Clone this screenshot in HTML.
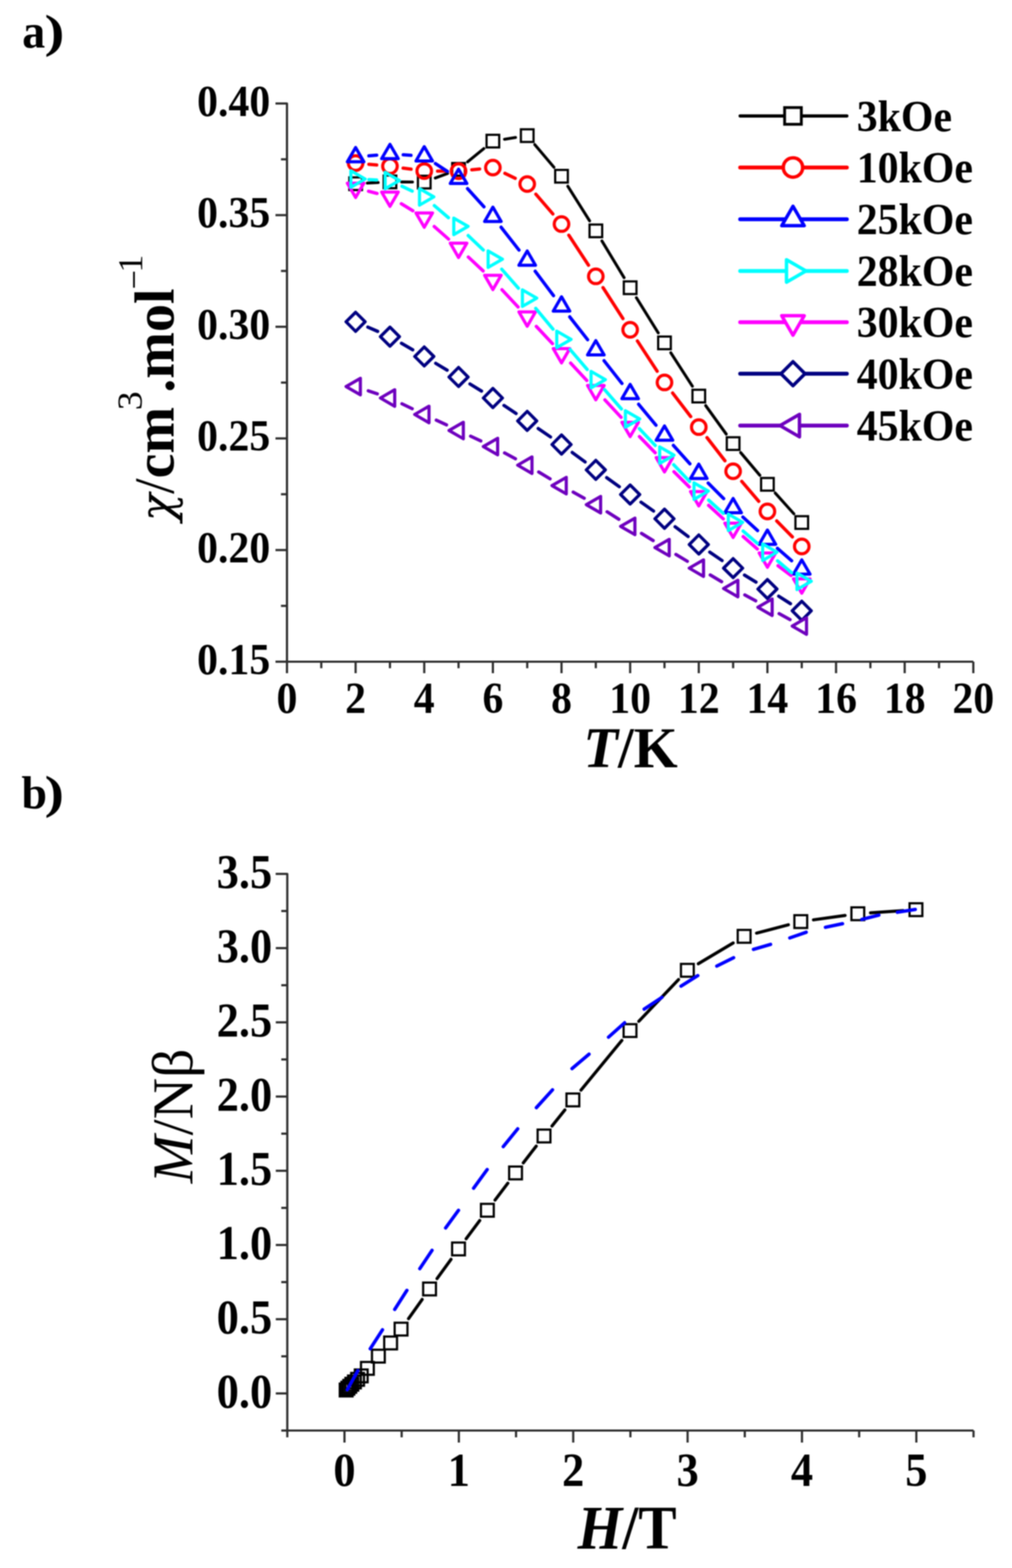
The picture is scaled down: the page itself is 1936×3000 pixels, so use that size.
<!DOCTYPE html>
<html><head><meta charset="utf-8"><title>Figure</title>
<style>
html,body{margin:0;padding:0;background:#fff}
svg{display:block;filter:blur(1.2px)}

text{font-family:"Liberation Serif","Times New Roman",serif;fill:#000}
.ta{font-size:80px;font-weight:bold}
.tb{font-size:85px;font-weight:bold}
.lg{font-size:80px;font-weight:bold}
.pl{font-size:88px;font-weight:bold}
.pr{font-weight:normal}
.at{font-size:110px;font-weight:bold}
.ya{font-size:107px;font-weight:bold}
.sup{font-size:68px;font-weight:normal}
.chi{font-family:"DejaVu Serif",serif;font-style:italic;font-size:88px}
.yb{font-size:110px;font-weight:normal}

</style></head><body>
<svg width="1936" height="3000" viewBox="0 0 1936 3000">
<rect width="1936" height="3000" fill="#fff"/>
<path d="M527.0,198.0 H549.0 V1266.0 H1862.0" fill="none" stroke="#2e2e2e" stroke-width="4.2" stroke-linejoin="round"/>
<line x1="527.0" y1="1266.0" x2="549.0" y2="1266.0" stroke="#2e2e2e" stroke-width="4.2" stroke-linecap="butt"/>
<line x1="537.5" y1="1159.2" x2="549.0" y2="1159.2" stroke="#2e2e2e" stroke-width="4.2" stroke-linecap="butt"/>
<line x1="527.0" y1="1052.4" x2="549.0" y2="1052.4" stroke="#2e2e2e" stroke-width="4.2" stroke-linecap="butt"/>
<line x1="537.5" y1="945.6" x2="549.0" y2="945.6" stroke="#2e2e2e" stroke-width="4.2" stroke-linecap="butt"/>
<line x1="527.0" y1="838.8" x2="549.0" y2="838.8" stroke="#2e2e2e" stroke-width="4.2" stroke-linecap="butt"/>
<line x1="537.5" y1="732.0" x2="549.0" y2="732.0" stroke="#2e2e2e" stroke-width="4.2" stroke-linecap="butt"/>
<line x1="527.0" y1="625.2" x2="549.0" y2="625.2" stroke="#2e2e2e" stroke-width="4.2" stroke-linecap="butt"/>
<line x1="537.5" y1="518.4" x2="549.0" y2="518.4" stroke="#2e2e2e" stroke-width="4.2" stroke-linecap="butt"/>
<line x1="527.0" y1="411.6" x2="549.0" y2="411.6" stroke="#2e2e2e" stroke-width="4.2" stroke-linecap="butt"/>
<line x1="537.5" y1="304.8" x2="549.0" y2="304.8" stroke="#2e2e2e" stroke-width="4.2" stroke-linecap="butt"/>
<line x1="527.0" y1="198.0" x2="549.0" y2="198.0" stroke="#2e2e2e" stroke-width="4.2" stroke-linecap="butt"/>
<line x1="549.0" y1="1266.0" x2="549.0" y2="1288.0" stroke="#2e2e2e" stroke-width="4.2" stroke-linecap="butt"/>
<line x1="614.6" y1="1266.0" x2="614.6" y2="1278.5" stroke="#2e2e2e" stroke-width="4.2" stroke-linecap="butt"/>
<line x1="680.3" y1="1266.0" x2="680.3" y2="1288.0" stroke="#2e2e2e" stroke-width="4.2" stroke-linecap="butt"/>
<line x1="746.0" y1="1266.0" x2="746.0" y2="1278.5" stroke="#2e2e2e" stroke-width="4.2" stroke-linecap="butt"/>
<line x1="811.6" y1="1266.0" x2="811.6" y2="1288.0" stroke="#2e2e2e" stroke-width="4.2" stroke-linecap="butt"/>
<line x1="877.2" y1="1266.0" x2="877.2" y2="1278.5" stroke="#2e2e2e" stroke-width="4.2" stroke-linecap="butt"/>
<line x1="942.9" y1="1266.0" x2="942.9" y2="1288.0" stroke="#2e2e2e" stroke-width="4.2" stroke-linecap="butt"/>
<line x1="1008.6" y1="1266.0" x2="1008.6" y2="1278.5" stroke="#2e2e2e" stroke-width="4.2" stroke-linecap="butt"/>
<line x1="1074.2" y1="1266.0" x2="1074.2" y2="1288.0" stroke="#2e2e2e" stroke-width="4.2" stroke-linecap="butt"/>
<line x1="1139.8" y1="1266.0" x2="1139.8" y2="1278.5" stroke="#2e2e2e" stroke-width="4.2" stroke-linecap="butt"/>
<line x1="1205.5" y1="1266.0" x2="1205.5" y2="1288.0" stroke="#2e2e2e" stroke-width="4.2" stroke-linecap="butt"/>
<line x1="1271.2" y1="1266.0" x2="1271.2" y2="1278.5" stroke="#2e2e2e" stroke-width="4.2" stroke-linecap="butt"/>
<line x1="1336.8" y1="1266.0" x2="1336.8" y2="1288.0" stroke="#2e2e2e" stroke-width="4.2" stroke-linecap="butt"/>
<line x1="1402.5" y1="1266.0" x2="1402.5" y2="1278.5" stroke="#2e2e2e" stroke-width="4.2" stroke-linecap="butt"/>
<line x1="1468.1" y1="1266.0" x2="1468.1" y2="1288.0" stroke="#2e2e2e" stroke-width="4.2" stroke-linecap="butt"/>
<line x1="1533.8" y1="1266.0" x2="1533.8" y2="1278.5" stroke="#2e2e2e" stroke-width="4.2" stroke-linecap="butt"/>
<line x1="1599.4" y1="1266.0" x2="1599.4" y2="1288.0" stroke="#2e2e2e" stroke-width="4.2" stroke-linecap="butt"/>
<line x1="1665.1" y1="1266.0" x2="1665.1" y2="1278.5" stroke="#2e2e2e" stroke-width="4.2" stroke-linecap="butt"/>
<line x1="1730.7" y1="1266.0" x2="1730.7" y2="1288.0" stroke="#2e2e2e" stroke-width="4.2" stroke-linecap="butt"/>
<line x1="1796.4" y1="1266.0" x2="1796.4" y2="1278.5" stroke="#2e2e2e" stroke-width="4.2" stroke-linecap="butt"/>
<line x1="1862.0" y1="1266.0" x2="1862.0" y2="1288.0" stroke="#2e2e2e" stroke-width="4.2" stroke-linecap="butt"/>
<path d="M527.6,1672.0 H549.6 V2737.0 H1862.4" fill="none" stroke="#2e2e2e" stroke-width="4.2" stroke-linejoin="round"/>
<line x1="538.1" y1="2737.0" x2="549.6" y2="2737.0" stroke="#2e2e2e" stroke-width="4.2" stroke-linecap="butt"/>
<line x1="527.6" y1="2666.0" x2="549.6" y2="2666.0" stroke="#2e2e2e" stroke-width="4.2" stroke-linecap="butt"/>
<line x1="538.1" y1="2595.0" x2="549.6" y2="2595.0" stroke="#2e2e2e" stroke-width="4.2" stroke-linecap="butt"/>
<line x1="527.6" y1="2524.0" x2="549.6" y2="2524.0" stroke="#2e2e2e" stroke-width="4.2" stroke-linecap="butt"/>
<line x1="538.1" y1="2453.0" x2="549.6" y2="2453.0" stroke="#2e2e2e" stroke-width="4.2" stroke-linecap="butt"/>
<line x1="527.6" y1="2382.0" x2="549.6" y2="2382.0" stroke="#2e2e2e" stroke-width="4.2" stroke-linecap="butt"/>
<line x1="538.1" y1="2311.0" x2="549.6" y2="2311.0" stroke="#2e2e2e" stroke-width="4.2" stroke-linecap="butt"/>
<line x1="527.6" y1="2240.0" x2="549.6" y2="2240.0" stroke="#2e2e2e" stroke-width="4.2" stroke-linecap="butt"/>
<line x1="538.1" y1="2169.0" x2="549.6" y2="2169.0" stroke="#2e2e2e" stroke-width="4.2" stroke-linecap="butt"/>
<line x1="527.6" y1="2098.0" x2="549.6" y2="2098.0" stroke="#2e2e2e" stroke-width="4.2" stroke-linecap="butt"/>
<line x1="538.1" y1="2027.0" x2="549.6" y2="2027.0" stroke="#2e2e2e" stroke-width="4.2" stroke-linecap="butt"/>
<line x1="527.6" y1="1956.0" x2="549.6" y2="1956.0" stroke="#2e2e2e" stroke-width="4.2" stroke-linecap="butt"/>
<line x1="538.1" y1="1885.0" x2="549.6" y2="1885.0" stroke="#2e2e2e" stroke-width="4.2" stroke-linecap="butt"/>
<line x1="527.6" y1="1814.0" x2="549.6" y2="1814.0" stroke="#2e2e2e" stroke-width="4.2" stroke-linecap="butt"/>
<line x1="538.1" y1="1743.0" x2="549.6" y2="1743.0" stroke="#2e2e2e" stroke-width="4.2" stroke-linecap="butt"/>
<line x1="527.6" y1="1672.0" x2="549.6" y2="1672.0" stroke="#2e2e2e" stroke-width="4.2" stroke-linecap="butt"/>
<line x1="549.6" y1="2737.0" x2="549.6" y2="2750.0" stroke="#2e2e2e" stroke-width="4.2" stroke-linecap="butt"/>
<line x1="659.0" y1="2737.0" x2="659.0" y2="2760.0" stroke="#2e2e2e" stroke-width="4.2" stroke-linecap="butt"/>
<line x1="768.4" y1="2737.0" x2="768.4" y2="2750.0" stroke="#2e2e2e" stroke-width="4.2" stroke-linecap="butt"/>
<line x1="877.8" y1="2737.0" x2="877.8" y2="2760.0" stroke="#2e2e2e" stroke-width="4.2" stroke-linecap="butt"/>
<line x1="987.2" y1="2737.0" x2="987.2" y2="2750.0" stroke="#2e2e2e" stroke-width="4.2" stroke-linecap="butt"/>
<line x1="1096.6" y1="2737.0" x2="1096.6" y2="2760.0" stroke="#2e2e2e" stroke-width="4.2" stroke-linecap="butt"/>
<line x1="1206.0" y1="2737.0" x2="1206.0" y2="2750.0" stroke="#2e2e2e" stroke-width="4.2" stroke-linecap="butt"/>
<line x1="1315.4" y1="2737.0" x2="1315.4" y2="2760.0" stroke="#2e2e2e" stroke-width="4.2" stroke-linecap="butt"/>
<line x1="1424.8" y1="2737.0" x2="1424.8" y2="2750.0" stroke="#2e2e2e" stroke-width="4.2" stroke-linecap="butt"/>
<line x1="1534.2" y1="2737.0" x2="1534.2" y2="2760.0" stroke="#2e2e2e" stroke-width="4.2" stroke-linecap="butt"/>
<line x1="1643.6" y1="2737.0" x2="1643.6" y2="2750.0" stroke="#2e2e2e" stroke-width="4.2" stroke-linecap="butt"/>
<line x1="1753.0" y1="2737.0" x2="1753.0" y2="2760.0" stroke="#2e2e2e" stroke-width="4.2" stroke-linecap="butt"/>
<line x1="1862.4" y1="2737.0" x2="1862.4" y2="2750.0" stroke="#2e2e2e" stroke-width="4.2" stroke-linecap="butt"/>
<path d="M702.8,350.3L723.5,349.2M768.4,348.1L789.1,348.3M832.7,340.6L856.2,331.8M894.6,309.7L925.5,284.3M965.1,266.4L986.3,263.1M1023.1,276.7L1059.7,320.0M1086.2,356.3L1127.9,422.6M1151.5,461.0L1193.9,531.2M1217.4,569.6L1259.3,636.9M1283.3,674.9L1324.6,738.9M1350.0,776.0L1389.3,830.5M1416.9,865.9L1453.6,909.4M1483.1,943.3L1518.7,983.0" fill="none" stroke="#000000" stroke-width="5.6" stroke-linecap="round"/>
<rect x="668.2" y="339.4" width="24.2" height="24.2" fill="none" stroke="#000000" stroke-width="4.2"/>
<rect x="733.9" y="335.9" width="24.2" height="24.2" fill="none" stroke="#000000" stroke-width="4.2"/>
<rect x="799.5" y="336.3" width="24.2" height="24.2" fill="none" stroke="#000000" stroke-width="4.2"/>
<rect x="865.1" y="311.9" width="24.2" height="24.2" fill="none" stroke="#000000" stroke-width="4.2"/>
<rect x="930.8" y="257.9" width="24.2" height="24.2" fill="none" stroke="#000000" stroke-width="4.2"/>
<rect x="996.5" y="247.4" width="24.2" height="24.2" fill="none" stroke="#000000" stroke-width="4.2"/>
<rect x="1062.1" y="325.1" width="24.2" height="24.2" fill="none" stroke="#000000" stroke-width="4.2"/>
<rect x="1127.8" y="429.6" width="24.2" height="24.2" fill="none" stroke="#000000" stroke-width="4.2"/>
<rect x="1193.4" y="538.4" width="24.2" height="24.2" fill="none" stroke="#000000" stroke-width="4.2"/>
<rect x="1259.1" y="643.9" width="24.2" height="24.2" fill="none" stroke="#000000" stroke-width="4.2"/>
<rect x="1324.7" y="745.7" width="24.2" height="24.2" fill="none" stroke="#000000" stroke-width="4.2"/>
<rect x="1390.4" y="836.6" width="24.2" height="24.2" fill="none" stroke="#000000" stroke-width="4.2"/>
<rect x="1456.0" y="914.5" width="24.2" height="24.2" fill="none" stroke="#000000" stroke-width="4.2"/>
<rect x="1521.7" y="987.6" width="24.2" height="24.2" fill="none" stroke="#000000" stroke-width="4.2"/>
<path d="M705.7,314.3L720.6,315.7M771.2,321.6L786.4,323.7M837.1,327.4L851.8,327.4M902.6,324.8L917.5,323.3M965.9,331.6L985.6,341.1M1025.1,371.5L1057.6,409.3M1088.2,450.0L1125.9,507.4M1153.6,550.2L1191.7,609.5M1219.4,652.4L1257.2,710.3M1286.7,751.9L1321.3,797.0M1352.5,837.3L1386.8,881.5M1419.0,921.0L1451.5,959.1M1485.9,996.7L1515.9,1027.3" fill="none" stroke="#ff0000" stroke-width="6.3" stroke-linecap="round"/>
<circle cx="680.3" cy="312.0" r="13.9" fill="none" stroke="#ff0000" stroke-width="6.0"/>
<circle cx="746.0" cy="318.0" r="13.9" fill="none" stroke="#ff0000" stroke-width="6.0"/>
<circle cx="811.6" cy="327.3" r="13.9" fill="none" stroke="#ff0000" stroke-width="6.0"/>
<circle cx="877.2" cy="327.5" r="13.9" fill="none" stroke="#ff0000" stroke-width="6.0"/>
<circle cx="942.9" cy="320.6" r="13.9" fill="none" stroke="#ff0000" stroke-width="6.0"/>
<circle cx="1008.6" cy="352.1" r="13.9" fill="none" stroke="#ff0000" stroke-width="6.0"/>
<circle cx="1074.2" cy="428.7" r="13.9" fill="none" stroke="#ff0000" stroke-width="6.0"/>
<circle cx="1139.8" cy="528.7" r="13.9" fill="none" stroke="#ff0000" stroke-width="6.0"/>
<circle cx="1205.5" cy="631.0" r="13.9" fill="none" stroke="#ff0000" stroke-width="6.0"/>
<circle cx="1271.2" cy="731.7" r="13.9" fill="none" stroke="#ff0000" stroke-width="6.0"/>
<circle cx="1336.8" cy="817.2" r="13.9" fill="none" stroke="#ff0000" stroke-width="6.0"/>
<circle cx="1402.5" cy="901.6" r="13.9" fill="none" stroke="#ff0000" stroke-width="6.0"/>
<circle cx="1468.1" cy="978.5" r="13.9" fill="none" stroke="#ff0000" stroke-width="6.0"/>
<circle cx="1533.8" cy="1045.5" r="13.9" fill="none" stroke="#ff0000" stroke-width="6.0"/>
<path d="M705.7,298.2L720.6,296.8M771.4,296.2L786.2,297.2M832.9,312.9L855.9,328.0M894.4,360.9L925.8,395.7M958.6,434.7L992.8,478.4M1023.8,518.9L1058.9,565.7M1089.9,606.2L1124.1,649.9M1155.6,690.1L1189.8,733.6M1221.7,773.4L1254.9,813.5M1288.2,852.2L1319.8,887.3M1354.8,924.3L1384.4,954.0M1421.2,989.3L1449.3,1015.1M1487.3,1049.1L1514.5,1072.8" fill="none" stroke="#0000ff" stroke-width="6.3" stroke-linecap="round"/>
<polygon points="680.3,282.2 696.1,309.6 664.5,309.6" fill="none" stroke="#0000ff" stroke-width="6.0" stroke-linejoin="round"/>
<polygon points="746.0,276.2 761.8,303.6 730.1,303.6" fill="none" stroke="#0000ff" stroke-width="6.0" stroke-linejoin="round"/>
<polygon points="811.6,280.6 827.4,308.0 795.8,308.0" fill="none" stroke="#0000ff" stroke-width="6.0" stroke-linejoin="round"/>
<polygon points="877.2,323.7 893.1,351.1 861.4,351.1" fill="none" stroke="#0000ff" stroke-width="6.0" stroke-linejoin="round"/>
<polygon points="942.9,396.3 958.7,423.7 927.1,423.7" fill="none" stroke="#0000ff" stroke-width="6.0" stroke-linejoin="round"/>
<polygon points="1008.6,480.2 1024.4,507.6 992.7,507.6" fill="none" stroke="#0000ff" stroke-width="6.0" stroke-linejoin="round"/>
<polygon points="1074.2,567.8 1090.0,595.2 1058.4,595.2" fill="none" stroke="#0000ff" stroke-width="6.0" stroke-linejoin="round"/>
<polygon points="1139.8,651.7 1155.7,679.1 1124.0,679.1" fill="none" stroke="#0000ff" stroke-width="6.0" stroke-linejoin="round"/>
<polygon points="1205.5,735.4 1221.3,762.8 1189.7,762.8" fill="none" stroke="#0000ff" stroke-width="6.0" stroke-linejoin="round"/>
<polygon points="1271.2,814.9 1287.0,842.3 1255.3,842.3" fill="none" stroke="#0000ff" stroke-width="6.0" stroke-linejoin="round"/>
<polygon points="1336.8,888.0 1352.6,915.4 1321.0,915.4" fill="none" stroke="#0000ff" stroke-width="6.0" stroke-linejoin="round"/>
<polygon points="1402.5,953.7 1418.3,981.1 1386.6,981.1" fill="none" stroke="#0000ff" stroke-width="6.0" stroke-linejoin="round"/>
<polygon points="1468.1,1014.1 1483.9,1041.5 1452.3,1041.5" fill="none" stroke="#0000ff" stroke-width="6.0" stroke-linejoin="round"/>
<polygon points="1533.8,1071.2 1549.6,1098.6 1517.9,1098.6" fill="none" stroke="#0000ff" stroke-width="6.0" stroke-linejoin="round"/>
<path d="M705.0,365.9L721.3,370.1M767.7,389.8L789.8,403.2M830.7,433.4L858.1,457.5M895.9,491.8L924.3,518.4M960.3,554.4L991.1,587.3M1026.0,624.5L1056.8,657.4M1091.6,694.7L1122.5,727.9M1157.2,765.2L1188.1,798.4M1223.3,835.3L1253.4,866.3M1289.3,902.5L1318.7,931.7M1355.6,966.9L1383.7,992.7M1421.7,1026.7L1448.8,1050.3M1488.4,1082.4L1513.4,1101.2" fill="none" stroke="#ff00ff" stroke-width="6.3" stroke-linecap="round"/>
<polygon points="680.3,377.8 696.1,350.4 664.5,350.4" fill="none" stroke="#ff00ff" stroke-width="6.0" stroke-linejoin="round"/>
<polygon points="746.0,394.8 761.8,367.4 730.1,367.4" fill="none" stroke="#ff00ff" stroke-width="6.0" stroke-linejoin="round"/>
<polygon points="811.6,434.8 827.4,407.4 795.8,407.4" fill="none" stroke="#ff00ff" stroke-width="6.0" stroke-linejoin="round"/>
<polygon points="877.2,492.7 893.1,465.3 861.4,465.3" fill="none" stroke="#ff00ff" stroke-width="6.0" stroke-linejoin="round"/>
<polygon points="942.9,554.1 958.7,526.7 927.1,526.7" fill="none" stroke="#ff00ff" stroke-width="6.0" stroke-linejoin="round"/>
<polygon points="1008.6,624.2 1024.4,596.8 992.7,596.8" fill="none" stroke="#ff00ff" stroke-width="6.0" stroke-linejoin="round"/>
<polygon points="1074.2,694.3 1090.0,666.9 1058.4,666.9" fill="none" stroke="#ff00ff" stroke-width="6.0" stroke-linejoin="round"/>
<polygon points="1139.8,764.9 1155.7,737.5 1124.0,737.5" fill="none" stroke="#ff00ff" stroke-width="6.0" stroke-linejoin="round"/>
<polygon points="1205.5,835.3 1221.3,807.9 1189.7,807.9" fill="none" stroke="#ff00ff" stroke-width="6.0" stroke-linejoin="round"/>
<polygon points="1271.2,902.9 1287.0,875.5 1255.3,875.5" fill="none" stroke="#ff00ff" stroke-width="6.0" stroke-linejoin="round"/>
<polygon points="1336.8,967.9 1352.6,940.5 1321.0,940.5" fill="none" stroke="#ff00ff" stroke-width="6.0" stroke-linejoin="round"/>
<polygon points="1402.5,1028.3 1418.3,1000.9 1386.6,1000.9" fill="none" stroke="#ff00ff" stroke-width="6.0" stroke-linejoin="round"/>
<polygon points="1468.1,1085.3 1483.9,1057.9 1452.3,1057.9" fill="none" stroke="#ff00ff" stroke-width="6.0" stroke-linejoin="round"/>
<polygon points="1533.8,1134.9 1549.6,1107.5 1517.9,1107.5" fill="none" stroke="#ff00ff" stroke-width="6.0" stroke-linejoin="round"/>
<path d="M705.8,343.6L720.5,344.3M769.0,356.4L788.6,365.7M830.9,393.3L857.9,416.5M895.7,450.7L924.5,478.3M959.8,515.0L991.7,551.3M1024.9,590.0L1057.9,629.7M1090.7,668.7L1123.3,706.9M1156.6,745.5L1188.7,782.4M1223.1,820.1L1253.6,852.3M1288.8,889.2L1319.2,921.2M1355.7,956.8L1383.6,982.1M1421.7,1016.1L1448.9,1039.7M1487.5,1073.0L1514.3,1095.7" fill="none" stroke="#00ffff" stroke-width="6.3" stroke-linecap="round"/>
<polygon points="698.6,342.5 671.2,358.3 671.2,326.7" fill="none" stroke="#00ffff" stroke-width="6.0" stroke-linejoin="round"/>
<polygon points="764.2,345.4 736.8,361.2 736.8,329.6" fill="none" stroke="#00ffff" stroke-width="6.0" stroke-linejoin="round"/>
<polygon points="829.9,376.7 802.5,392.5 802.5,360.9" fill="none" stroke="#00ffff" stroke-width="6.0" stroke-linejoin="round"/>
<polygon points="895.5,433.1 868.1,448.9 868.1,417.3" fill="none" stroke="#00ffff" stroke-width="6.0" stroke-linejoin="round"/>
<polygon points="961.2,495.9 933.8,511.7 933.8,480.1" fill="none" stroke="#00ffff" stroke-width="6.0" stroke-linejoin="round"/>
<polygon points="1026.8,570.4 999.4,586.2 999.4,554.6" fill="none" stroke="#00ffff" stroke-width="6.0" stroke-linejoin="round"/>
<polygon points="1092.5,649.3 1065.1,665.1 1065.1,633.5" fill="none" stroke="#00ffff" stroke-width="6.0" stroke-linejoin="round"/>
<polygon points="1158.1,726.3 1130.7,742.1 1130.7,710.5" fill="none" stroke="#00ffff" stroke-width="6.0" stroke-linejoin="round"/>
<polygon points="1223.8,801.6 1196.4,817.4 1196.4,785.8" fill="none" stroke="#00ffff" stroke-width="6.0" stroke-linejoin="round"/>
<polygon points="1289.4,870.8 1262.0,886.6 1262.0,855.0" fill="none" stroke="#00ffff" stroke-width="6.0" stroke-linejoin="round"/>
<polygon points="1355.1,939.6 1327.7,955.4 1327.7,923.8" fill="none" stroke="#00ffff" stroke-width="6.0" stroke-linejoin="round"/>
<polygon points="1420.7,999.3 1393.3,1015.1 1393.3,983.5" fill="none" stroke="#00ffff" stroke-width="6.0" stroke-linejoin="round"/>
<polygon points="1486.4,1056.5 1459.0,1072.3 1459.0,1040.7" fill="none" stroke="#00ffff" stroke-width="6.0" stroke-linejoin="round"/>
<polygon points="1552.0,1112.2 1524.6,1128.0 1524.6,1096.4" fill="none" stroke="#00ffff" stroke-width="6.0" stroke-linejoin="round"/>
<path d="M703.7,625.8L722.5,634.0M768.0,656.8L789.5,669.3M833.5,695.1L855.4,708.2M899.0,734.6L921.2,748.2M964.1,775.7L987.3,791.1M1029.6,819.8L1053.2,836.0M1094.7,865.7L1119.3,883.8M1160.6,913.9L1184.8,931.2M1226.3,960.8L1250.3,977.8M1291.5,1007.8L1316.4,1026.5M1357.8,1056.3L1381.4,1072.5M1424.2,1100.3L1446.3,1113.7M1489.6,1140.6L1512.2,1155.0" fill="none" stroke="#000080" stroke-width="6.3" stroke-linecap="round"/>
<polygon points="680.3,597.5 698.5,615.7 680.3,634.0 662.0,615.7" fill="none" stroke="#000080" stroke-width="6.0" stroke-linejoin="round"/>
<polygon points="746.0,625.9 764.2,644.1 746.0,662.4 727.7,644.1" fill="none" stroke="#000080" stroke-width="6.0" stroke-linejoin="round"/>
<polygon points="811.6,663.8 829.9,682.0 811.6,700.2 793.4,682.0" fill="none" stroke="#000080" stroke-width="6.0" stroke-linejoin="round"/>
<polygon points="877.2,703.0 895.5,721.3 877.2,739.5 859.0,721.3" fill="none" stroke="#000080" stroke-width="6.0" stroke-linejoin="round"/>
<polygon points="942.9,743.2 961.2,761.5 942.9,779.8 924.7,761.5" fill="none" stroke="#000080" stroke-width="6.0" stroke-linejoin="round"/>
<polygon points="1008.6,787.0 1026.8,805.3 1008.6,823.5 990.3,805.3" fill="none" stroke="#000080" stroke-width="6.0" stroke-linejoin="round"/>
<polygon points="1074.2,832.2 1092.5,850.5 1074.2,868.8 1056.0,850.5" fill="none" stroke="#000080" stroke-width="6.0" stroke-linejoin="round"/>
<polygon points="1139.8,880.8 1158.1,899.0 1139.8,917.2 1121.6,899.0" fill="none" stroke="#000080" stroke-width="6.0" stroke-linejoin="round"/>
<polygon points="1205.5,927.9 1223.8,946.1 1205.5,964.4 1187.2,946.1" fill="none" stroke="#000080" stroke-width="6.0" stroke-linejoin="round"/>
<polygon points="1271.2,974.2 1289.4,992.5 1271.2,1010.8 1252.9,992.5" fill="none" stroke="#000080" stroke-width="6.0" stroke-linejoin="round"/>
<polygon points="1336.8,1023.5 1355.1,1041.8 1336.8,1060.0 1318.6,1041.8" fill="none" stroke="#000080" stroke-width="6.0" stroke-linejoin="round"/>
<polygon points="1402.5,1068.8 1420.7,1087.0 1402.5,1105.2 1384.2,1087.0" fill="none" stroke="#000080" stroke-width="6.0" stroke-linejoin="round"/>
<polygon points="1468.1,1108.8 1486.4,1127.0 1468.1,1145.2 1449.9,1127.0" fill="none" stroke="#000080" stroke-width="6.0" stroke-linejoin="round"/>
<polygon points="1533.8,1150.3 1552.0,1168.6 1533.8,1186.8 1515.5,1168.6" fill="none" stroke="#000080" stroke-width="6.0" stroke-linejoin="round"/>
<path d="M704.5,747.7L721.8,753.4M768.9,772.5L788.6,782.0M834.7,803.8L854.2,812.9M900.3,834.5L919.8,843.6M965.3,866.6L986.1,877.8M1030.5,903.0L1052.3,916.1M1096.5,941.5L1117.6,953.2M1161.4,979.2L1183.9,993.5M1227.2,1020.5L1249.5,1034.3M1293.0,1060.8L1314.9,1073.9M1358.7,1100.0L1380.5,1113.0M1424.8,1138.2L1445.7,1149.6M1490.5,1174.1L1511.4,1185.5" fill="none" stroke="#6e00be" stroke-width="6.3" stroke-linecap="round"/>
<polygon points="662.0,739.6 689.4,755.4 689.4,723.8" fill="none" stroke="#6e00be" stroke-width="6.0" stroke-linejoin="round"/>
<polygon points="727.7,761.5 755.1,777.3 755.1,745.7" fill="none" stroke="#6e00be" stroke-width="6.0" stroke-linejoin="round"/>
<polygon points="793.3,793.0 820.7,808.8 820.7,777.2" fill="none" stroke="#6e00be" stroke-width="6.0" stroke-linejoin="round"/>
<polygon points="859.0,823.7 886.4,839.5 886.4,807.9" fill="none" stroke="#6e00be" stroke-width="6.0" stroke-linejoin="round"/>
<polygon points="924.6,854.4 952.0,870.2 952.0,838.6" fill="none" stroke="#6e00be" stroke-width="6.0" stroke-linejoin="round"/>
<polygon points="990.3,890.0 1017.7,905.8 1017.7,874.2" fill="none" stroke="#6e00be" stroke-width="6.0" stroke-linejoin="round"/>
<polygon points="1055.9,929.1 1083.3,944.9 1083.3,913.3" fill="none" stroke="#6e00be" stroke-width="6.0" stroke-linejoin="round"/>
<polygon points="1121.6,965.6 1149.0,981.4 1149.0,949.8" fill="none" stroke="#6e00be" stroke-width="6.0" stroke-linejoin="round"/>
<polygon points="1187.2,1007.1 1214.6,1022.9 1214.6,991.3" fill="none" stroke="#6e00be" stroke-width="6.0" stroke-linejoin="round"/>
<polygon points="1252.9,1047.7 1280.3,1063.5 1280.3,1031.9" fill="none" stroke="#6e00be" stroke-width="6.0" stroke-linejoin="round"/>
<polygon points="1318.5,1087.0 1345.9,1102.8 1345.9,1071.2" fill="none" stroke="#6e00be" stroke-width="6.0" stroke-linejoin="round"/>
<polygon points="1384.2,1126.0 1411.6,1141.8 1411.6,1110.2" fill="none" stroke="#6e00be" stroke-width="6.0" stroke-linejoin="round"/>
<polygon points="1449.8,1161.8 1477.2,1177.6 1477.2,1146.0" fill="none" stroke="#6e00be" stroke-width="6.0" stroke-linejoin="round"/>
<polygon points="1515.5,1197.8 1542.9,1213.6 1542.9,1182.0" fill="none" stroke="#6e00be" stroke-width="6.0" stroke-linejoin="round"/>
<line x1="1416" y1="221.8" x2="1620" y2="221.8" stroke="#000000" stroke-width="6.3" stroke-linecap="round"/>
<rect x="1501.0" y="205.8" width="32.0" height="32.0" fill="#fff" stroke="#000000" stroke-width="5.4"/>
<text transform="translate(1639,250.6) scale(1,1.07)" class="lg">3kOe</text>
<line x1="1416" y1="320.4" x2="1620" y2="320.4" stroke="#ff0000" stroke-width="7.5" stroke-linecap="round"/>
<circle cx="1517.0" cy="320.4" r="18.5" fill="#fff" stroke="#ff0000" stroke-width="6.5"/>
<text transform="translate(1639,349.2) scale(1,1.07)" class="lg">10kOe</text>
<line x1="1416" y1="419.4" x2="1620" y2="419.4" stroke="#0000ff" stroke-width="7.5" stroke-linecap="round"/>
<polygon points="1517.0,394.6 1538.5,431.8 1495.5,431.8" fill="#fff" stroke="#0000ff" stroke-width="6.5" stroke-linejoin="round"/>
<text transform="translate(1639,448.2) scale(1,1.07)" class="lg">25kOe</text>
<line x1="1416" y1="518.4" x2="1620" y2="518.4" stroke="#00ffff" stroke-width="7.5" stroke-linecap="round"/>
<polygon points="1541.8,518.4 1504.6,539.9 1504.6,496.9" fill="#fff" stroke="#00ffff" stroke-width="6.5" stroke-linejoin="round"/>
<text transform="translate(1639,547.2) scale(1,1.07)" class="lg">28kOe</text>
<line x1="1416" y1="616.5" x2="1620" y2="616.5" stroke="#ff00ff" stroke-width="7.5" stroke-linecap="round"/>
<polygon points="1517.0,641.3 1538.5,604.1 1495.5,604.1" fill="#fff" stroke="#ff00ff" stroke-width="6.5" stroke-linejoin="round"/>
<text transform="translate(1639,645.3) scale(1,1.07)" class="lg">30kOe</text>
<line x1="1416" y1="715" x2="1620" y2="715" stroke="#000080" stroke-width="7.5" stroke-linecap="round"/>
<polygon points="1517.0,692.0 1540.0,715.0 1517.0,738.0 1494.0,715.0" fill="#fff" stroke="#000080" stroke-width="6.5" stroke-linejoin="round"/>
<text transform="translate(1639,743.8) scale(1,1.07)" class="lg">40kOe</text>
<line x1="1416" y1="814.3" x2="1620" y2="814.3" stroke="#6e00be" stroke-width="7.5" stroke-linecap="round"/>
<polygon points="1492.2,814.3 1529.4,835.8 1529.4,792.8" fill="#fff" stroke="#6e00be" stroke-width="6.5" stroke-linejoin="round"/>
<text transform="translate(1639,843.1) scale(1,1.07)" class="lg">45kOe</text>
<path d="M781.5,2522.9L807.6,2486.2M836.1,2446.3L862.8,2409.5M891.8,2370.0L917.7,2335.2M947.1,2296.0L971.5,2263.8M1001.1,2224.8L1025.8,2192.8M1056.0,2154.3L1080.6,2123.6M1111.5,2085.6L1189.6,1990.6M1222.1,1954.0L1298.0,1874.2M1335.9,1843.9L1402.6,1804.1M1447.3,1785.3L1508.2,1769.4M1556.2,1759.9L1616.7,1751.5M1665.4,1746.5L1727.8,1742.2" fill="none" stroke="#000" stroke-width="6.0" stroke-linecap="round"/>
<rect x="650.0" y="2647.2" width="24.5" height="24.5" fill="none" stroke="#000" stroke-width="4.2"/>
<rect x="653.2" y="2643.8" width="24.5" height="24.5" fill="none" stroke="#000" stroke-width="4.2"/>
<rect x="656.8" y="2640.2" width="24.5" height="24.5" fill="none" stroke="#000" stroke-width="4.2"/>
<rect x="660.8" y="2636.2" width="24.5" height="24.5" fill="none" stroke="#000" stroke-width="4.2"/>
<rect x="665.8" y="2631.8" width="24.5" height="24.5" fill="none" stroke="#000" stroke-width="4.2"/>
<rect x="671.8" y="2626.8" width="24.5" height="24.5" fill="none" stroke="#000" stroke-width="4.2"/>
<rect x="678.8" y="2620.2" width="24.5" height="24.5" fill="none" stroke="#000" stroke-width="4.2"/>
<rect x="690.6" y="2605.8" width="24.5" height="24.5" fill="none" stroke="#000" stroke-width="4.2"/>
<rect x="711.6" y="2582.4" width="24.5" height="24.5" fill="none" stroke="#000" stroke-width="4.2"/>
<rect x="735.0" y="2557.2" width="24.5" height="24.5" fill="none" stroke="#000" stroke-width="4.2"/>
<rect x="755.0" y="2530.7" width="24.5" height="24.5" fill="none" stroke="#000" stroke-width="4.2"/>
<rect x="809.5" y="2453.9" width="24.5" height="24.5" fill="none" stroke="#000" stroke-width="4.2"/>
<rect x="864.9" y="2377.3" width="24.5" height="24.5" fill="none" stroke="#000" stroke-width="4.2"/>
<rect x="920.1" y="2303.3" width="24.5" height="24.5" fill="none" stroke="#000" stroke-width="4.2"/>
<rect x="974.0" y="2231.9" width="24.5" height="24.5" fill="none" stroke="#000" stroke-width="4.2"/>
<rect x="1028.5" y="2161.2" width="24.5" height="24.5" fill="none" stroke="#000" stroke-width="4.2"/>
<rect x="1083.7" y="2092.2" width="24.5" height="24.5" fill="none" stroke="#000" stroke-width="4.2"/>
<rect x="1193.0" y="1959.5" width="24.5" height="24.5" fill="none" stroke="#000" stroke-width="4.2"/>
<rect x="1302.7" y="1844.2" width="24.5" height="24.5" fill="none" stroke="#000" stroke-width="4.2"/>
<rect x="1411.3" y="1779.2" width="24.5" height="24.5" fill="none" stroke="#000" stroke-width="4.2"/>
<rect x="1519.7" y="1751.0" width="24.5" height="24.5" fill="none" stroke="#000" stroke-width="4.2"/>
<rect x="1628.8" y="1736.0" width="24.5" height="24.5" fill="none" stroke="#000" stroke-width="4.2"/>
<rect x="1740.0" y="1728.2" width="24.5" height="24.5" fill="none" stroke="#000" stroke-width="4.2"/>
<path d="M664.3,2659.0L684.6,2622.4M708.3,2580.5L731.7,2544.2M755.1,2505.2L778.4,2468.8M803.1,2427.3L826.5,2392.2M852.5,2349.4L877.1,2315.6M906.0,2273.4L932.0,2237.7M962.8,2193.8L990.4,2159.7M1026.1,2119.2L1057.0,2085.1M1094.3,2044.5L1126.8,2016.9M1164.1,1984.4L1194.9,1956.8M1232.3,1930.8L1266.4,1908.1M1302.8,1886.7L1335.0,1866.6M1371.2,1848.4L1403.4,1832.3M1441.4,1816.3L1474.1,1806.8M1510.9,1794.5L1542.3,1783.6M1579.1,1774.1L1611.8,1767.3M1648.6,1759.1L1681.3,1750.9M1716.8,1745.4L1750.9,1740.0" fill="none" stroke="#0000ff" stroke-width="6.5" stroke-linecap="round"/>
<text transform="translate(517.0,1289.5) scale(1.0,1.05)" class="ta" text-anchor="end">0.15</text>
<text transform="translate(517.0,1075.9) scale(1.0,1.05)" class="ta" text-anchor="end">0.20</text>
<text transform="translate(517.0,862.3) scale(1.0,1.05)" class="ta" text-anchor="end">0.25</text>
<text transform="translate(517.0,648.7) scale(1.0,1.05)" class="ta" text-anchor="end">0.30</text>
<text transform="translate(517.0,435.1) scale(1.0,1.05)" class="ta" text-anchor="end">0.35</text>
<text transform="translate(517.0,221.5) scale(1.0,1.05)" class="ta" text-anchor="end">0.40</text>
<text transform="translate(549.0,1364.0) scale(1.0,1.055)" class="ta" text-anchor="middle">0</text>
<text transform="translate(680.3,1364.0) scale(1.0,1.055)" class="ta" text-anchor="middle">2</text>
<text transform="translate(811.6,1364.0) scale(1.0,1.055)" class="ta" text-anchor="middle">4</text>
<text transform="translate(942.9,1364.0) scale(1.0,1.055)" class="ta" text-anchor="middle">6</text>
<text transform="translate(1074.2,1364.0) scale(1.0,1.055)" class="ta" text-anchor="middle">8</text>
<text transform="translate(1205.5,1364.0) scale(1.0,1.055)" class="ta" text-anchor="middle">10</text>
<text transform="translate(1336.8,1364.0) scale(1.0,1.055)" class="ta" text-anchor="middle">12</text>
<text transform="translate(1468.1,1364.0) scale(1.0,1.055)" class="ta" text-anchor="middle">14</text>
<text transform="translate(1599.4,1364.0) scale(1.0,1.055)" class="ta" text-anchor="middle">16</text>
<text transform="translate(1730.7,1364.0) scale(1.0,1.055)" class="ta" text-anchor="middle">18</text>
<text transform="translate(1862.0,1364.0) scale(1.0,1.055)" class="ta" text-anchor="middle">20</text>
<text transform="translate(520.8,2692.8) scale(1.0,1.1)" class="tb" text-anchor="end">0.0</text>
<text transform="translate(520.8,2550.8) scale(1.0,1.1)" class="tb" text-anchor="end">0.5</text>
<text transform="translate(520.8,2408.8) scale(1.0,1.1)" class="tb" text-anchor="end">1.0</text>
<text transform="translate(520.8,2266.8) scale(1.0,1.1)" class="tb" text-anchor="end">1.5</text>
<text transform="translate(520.8,2124.8) scale(1.0,1.1)" class="tb" text-anchor="end">2.0</text>
<text transform="translate(520.8,1982.8) scale(1.0,1.1)" class="tb" text-anchor="end">2.5</text>
<text transform="translate(520.8,1840.8) scale(1.0,1.1)" class="tb" text-anchor="end">3.0</text>
<text transform="translate(520.8,1698.8) scale(1.0,1.1)" class="tb" text-anchor="end">3.5</text>
<text transform="translate(659.0,2843.0) scale(1.0,1.075)" class="tb" text-anchor="middle">0</text>
<text transform="translate(877.8,2843.0) scale(1.0,1.075)" class="tb" text-anchor="middle">1</text>
<text transform="translate(1096.6,2843.0) scale(1.0,1.075)" class="tb" text-anchor="middle">2</text>
<text transform="translate(1315.4,2843.0) scale(1.0,1.075)" class="tb" text-anchor="middle">3</text>
<text transform="translate(1534.2,2843.0) scale(1.0,1.075)" class="tb" text-anchor="middle">4</text>
<text transform="translate(1753.0,2843.0) scale(1.0,1.075)" class="tb" text-anchor="middle">5</text>
<text transform="translate(42.5,91.0) scale(1.0,1.065)" class="pl">a</text>
<text transform="translate(84.9,90.0) scale(1.31,1.0)" class="pl">)</text>
<text transform="translate(41.0,1547.0)" class="pl">b</text>
<text transform="translate(85.3,1546.0) scale(1.27,1.0)" class="pl">)</text>
<text transform="translate(1116.0,1467.5) scale(0.985,1.0)" class="at"><tspan font-style="italic">T</tspan>/K</text>
<text transform="translate(1105.0,2963.0) scale(1.0,1.07)" class="at"><tspan font-style="italic">H</tspan>/T</text>
<text transform="translate(330.5,997.5) rotate(-90)" class="chi">χ</text>
<text transform="translate(331.5,945.0) rotate(-90)" class="ya"><tspan font-weight="normal">/</tspan>cm</text>
<text transform="translate(270.6,785.1) rotate(-90) scale(1.07,1.0)" class="sup">3</text>
<text transform="translate(331.5,751.2) rotate(-90)" class="ya">.mol</text>
<text transform="translate(271.8,550.1) rotate(-90) scale(0.877,1.0)" class="sup">–</text>
<text transform="translate(271.6,521.6) rotate(-90)" class="sup">1</text>
<text transform="translate(367.5,2264) rotate(-90)" class="yb"><tspan font-style="italic">M</tspan>/Nβ</text>
</svg>
</body></html>
